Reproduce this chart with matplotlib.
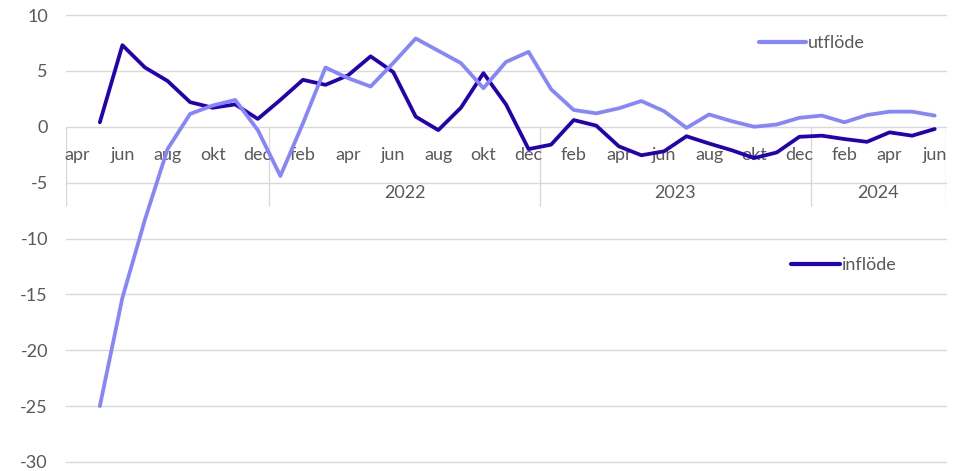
import numpy as np
import matplotlib
matplotlib.use("Agg")
import matplotlib.pyplot as plt
from matplotlib.lines import Line2D
import matplotlib.transforms as mtransforms

# ---- data ----
month_names = ["apr", "maj", "jun", "jul", "aug", "sep", "okt", "nov", "dec",
               "jan", "feb", "mar", "apr", "maj", "jun", "jul", "aug", "sep", "okt", "nov", "dec",
               "jan", "feb", "mar", "apr", "maj", "jun", "jul", "aug", "sep", "okt", "nov", "dec",
               "jan", "feb", "mar", "apr", "maj", "jun"]
years = [2021] * 9 + [2022] * 12 + [2023] * 12 + [2024] * 6
year_labels = {2021: "", 2022: "2022", 2023: "2023", 2024: "2024"}

inflode = [np.nan, 0.4, 7.3, 5.3, 4.1, 2.2, 1.7, 2.0, 0.7,
           2.4, 4.2, 3.75, 4.6, 6.3, 4.9, 0.9, -0.3, 1.7, 4.8, 2.0, -2.0,
           -1.6, 0.6, 0.1, -1.75, -2.55, -2.2, -0.85, -1.5, -2.1, -2.8, -2.3, -0.9,
           -0.8, -1.1, -1.35, -0.5, -0.8, -0.2]
utflode = [np.nan, -25.0, -15.3, -8.3, -2.0, 1.15, 1.9, 2.4, -0.3,
           -4.4, 0.3, 5.3, 4.35, 3.6, 5.7, 7.9, 6.8, 5.7, 3.45, 5.8, 6.7,
           3.35, 1.5, 1.2, 1.65, 2.3, 1.4, -0.1, 1.1, 0.5, 0.0, 0.2, 0.8,
           1.0, 0.4, 1.05, 1.35, 1.35, 1.0]

yticks = [10, 5, 0, -5, -10, -15, -20, -25, -30]

# ---- style ----
c_in = "#2200B4"
c_ut = "#8585FF"
grid_c = "#D9D9D9"
txt_c = "#595959"
FONT = ["Lato", "DejaVu Sans"]
fs = 13
plt.rcParams["font.family"] = FONT

W, H = 964, 471
fig = plt.figure(figsize=(W / 100, H / 100), dpi=100)
L, R, T, B = 66, 946, 15, 462
ax = fig.add_axes([L / W, 1 - B / H, (R - L) / W, (B - T) / H])

n = len(month_names)
x = np.arange(n)
ax.set_xlim(-0.5, n - 0.5)
ax.set_ylim(-30, 10)
for s in ax.spines.values():
    s.set_visible(False)
ax.set_xticks([])
ax.set_yticks(yticks)
ax.set_yticklabels([str(v) for v in yticks], color=txt_c, fontsize=fs)
ax.tick_params(axis="y", length=0, pad=13)
for v in yticks:
    ax.axhline(v, color=grid_c, lw=1.0, zorder=1)

# category axis labels (every second month)
trans_m = mtransforms.offset_copy(ax.transData, fig=fig, y=-20.5, units="points")
for i in range(0, n, 2):
    ax.text(x[i], 0, month_names[i], transform=trans_m, ha="center", va="center",
            color=txt_c, fontsize=fs, zorder=2)

# year group labels and separators
bounds = [-0.5]
for i in range(1, n):
    if years[i] != years[i - 1]:
        bounds.append(i - 0.5)
bounds.append(n - 0.5)
sep_bottom = -(206 - 127) / ((B - T) / 40)
ax.vlines(bounds, sep_bottom, 0, color=grid_c, lw=1.0, zorder=1)
trans_y = mtransforms.offset_copy(ax.transData, fig=fig, y=-47.5, units="points")
for a, b in zip(bounds[:-1], bounds[1:]):
    yr = years[int(a + 0.5)]
    ax.text((a + b) / 2, 0, year_labels[yr], transform=trans_y, ha="center",
            va="center", color=txt_c, fontsize=fs, zorder=2)

lw = 2.7
ax.plot(x, inflode, color=c_in, lw=lw, zorder=3, solid_joinstyle="round",
        solid_capstyle="round")
ax.plot(x, utflode, color=c_ut, lw=lw, zorder=4, solid_joinstyle="round",
        solid_capstyle="round")
for ln in ax.lines:
    ln.set_clip_on(False)

h_ut = Line2D([], [], color=c_ut, lw=lw + 0.3, solid_capstyle="round")
h_in = Line2D([], [], color=c_in, lw=lw + 0.3, solid_capstyle="round")
leg1 = fig.legend([h_ut], ["utflöde"], loc="center left",
                  bbox_to_anchor=(759 / W, 1 - 43 / H), frameon=False,
                  handlelength=2.6, handletextpad=0.1, borderpad=0, borderaxespad=0,
                  prop={"size": fs, "family": FONT}, labelcolor=txt_c)
leg2 = fig.legend([h_in], ["inflöde"], loc="center left",
                  bbox_to_anchor=(791 / W, 1 - 265 / H), frameon=False,
                  handlelength=2.7, handletextpad=0.1, borderpad=0, borderaxespad=0,
                  prop={"size": fs, "family": FONT}, labelcolor=txt_c)

fig.savefig("out.png", dpi=100, facecolor="white")
